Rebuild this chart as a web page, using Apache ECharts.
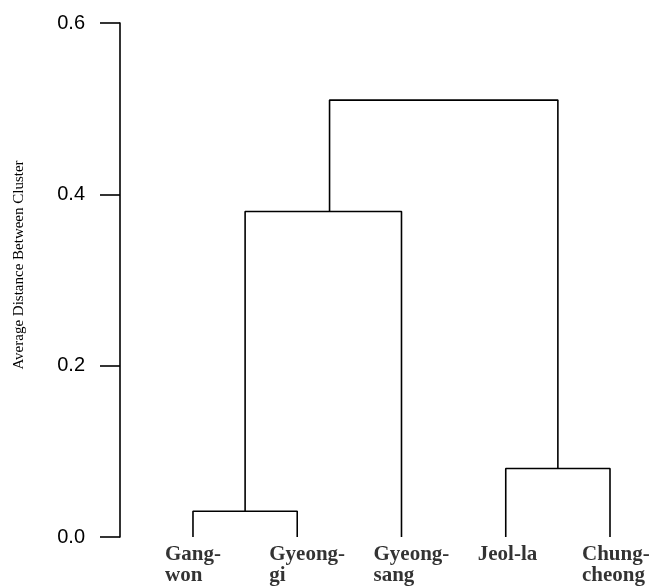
<!DOCTYPE html>
<html>
<head>
<meta charset="utf-8">
<script src="https://cdn.jsdelivr.net/npm/echarts@6/dist/echarts.min.js"></script>
<style>
html,body{margin:0;padding:0;background:#fff;}
#main{width:654px;height:587px;}
</style>
</head>
<body>
<div id="main"></div>
<script>
// Leaves (regions) in dendrogram order
const leaves = ['Gang-\nwon', 'Gyeong-\ngi', 'Gyeong-\nsang', 'Jeol-la', 'Chung-\ncheong'];
const leafPos = [1, 2, 3, 4, 5];
// Merges: children ids ('L' = leaf index, 'M' = merge index), height, node x position
const mergeLeft = ['L0', 'M0', 'L3', 'M1'];
const mergeRight = ['L1', 'L2', 'L4', 'M2'];
const mergeHeights = [0.03, 0.38, 0.08, 0.51];
const mergePos = [1.5, 2.31, 4.5, 3.4];
// Y axis ticks
const yTicks = [0.0, 0.2, 0.4, 0.6];
const yName = 'Average Distance Between Cluster';

function nodeXY(id) {
  const i = +id.slice(1);
  if (id[0] === 'L') return [leafPos[i], 0];
  return [mergePos[i], mergeHeights[i]];
}

const lineStyle = { color: '#000', width: 1.6 };
const series = mergeHeights.map((h, i) => {
  const a = nodeXY(mergeLeft[i]);
  const b = nodeXY(mergeRight[i]);
  return {
    type: 'line',
    data: [[a[0], a[1]], [a[0], h], [b[0], h], [b[0], b[1]]],
    symbol: 'none',
    lineStyle: lineStyle,
    silent: true,
    animation: false
  };
});

series.push({
  type: 'scatter',
  data: leafPos.map((x, i) => ({ value: [x, 0], name: leaves[i] })),
  symbolSize: 0,
  silent: true,
  animation: false,
  label: {
    show: true,
    position: 'bottom',
    distance: 7,
    align: 'left',
    offset: [-28, 0],
    formatter: p => p.name,
    fontFamily: 'Liberation Serif',
    fontWeight: 'bold',
    fontSize: 21,
    lineHeight: 21,
    color: '#000'
  }
});

const chart = echarts.init(document.getElementById('main'), null, { renderer: 'canvas' });
chart.setOption({
  backgroundColor: '#fff',
  animation: false,
  grid: { left: 120, right: 44, top: 23, bottom: 50, containLabel: false },
  xAxis: {
    type: 'value',
    min: 0.3,
    max: 5.0,
    show: false
  },
  yAxis: {
    type: 'value',
    min: yTicks[0],
    max: yTicks[yTicks.length - 1],
    interval: 0.2,
    name: yName,
    nameLocation: 'middle',
    nameGap: 93,
    nameRotate: 90,
    nameTextStyle: {
      fontFamily: 'Liberation Serif',
      fontSize: 15,
      color: '#000',
      padding: [0, 0, 0, 30]
    },
    axisLine: { show: true, lineStyle: { color: '#000', width: 1.6 } },
    axisTick: { show: true, length: 20, lineStyle: { color: '#000', width: 1.6 } },
    axisLabel: {
      margin: 35,
      fontFamily: 'Liberation Sans',
      fontSize: 20,
      color: '#000',
      formatter: v => v.toFixed(1)
    },
    splitLine: { show: false }
  },
  series: series
});
</script>
</body>
</html>
